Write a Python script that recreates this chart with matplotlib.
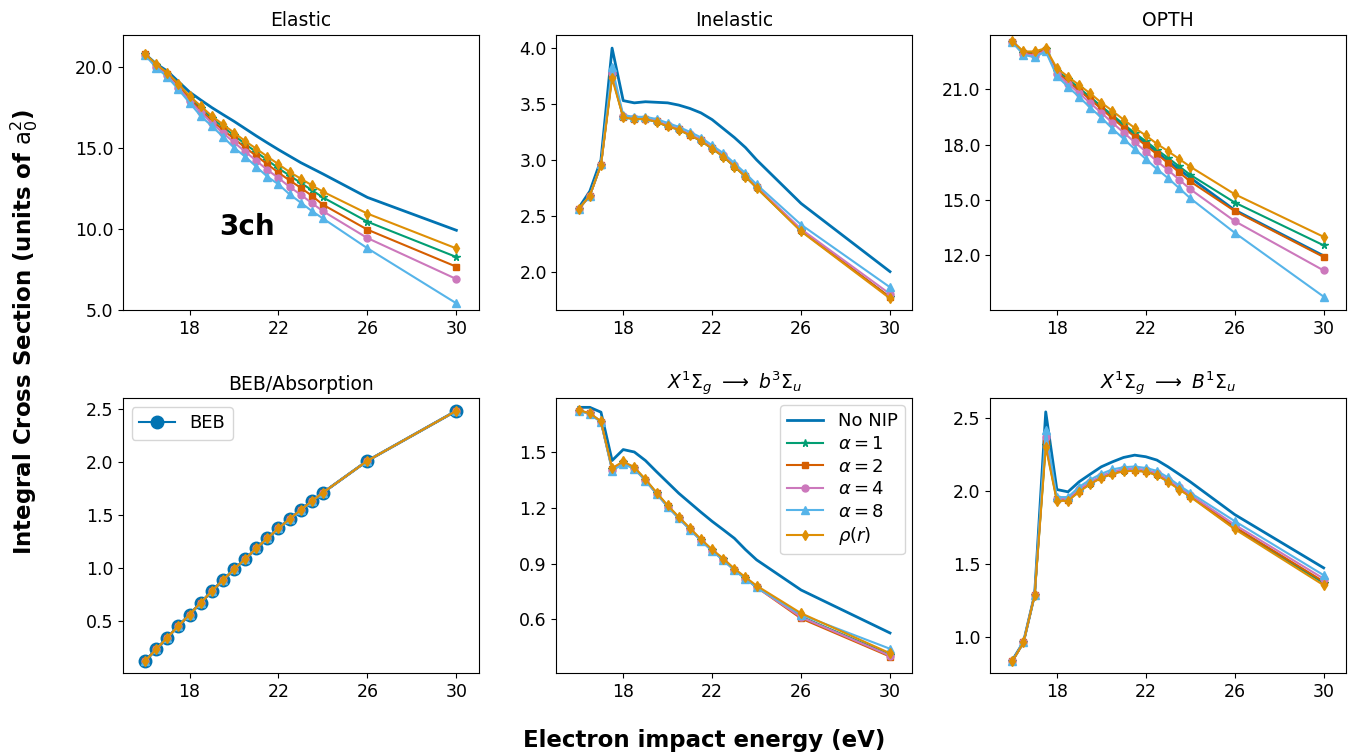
import numpy as np
import matplotlib
matplotlib.use('Agg')
import matplotlib.pyplot as plt
from matplotlib.ticker import MultipleLocator, FormatStrFormatter

plt.rcParams['font.size'] = 12

energy = [16, 16.5, 17, 17.5, 18, 18.5, 19, 19.5, 20, 20.5, 21, 21.5, 22, 22.5, 23, 23.5, 24, 26, 30]

labels = ['No NIP', r'$\alpha = 1$', r'$\alpha = 2$', r'$\alpha = 4$', r'$\alpha = 8$', r'$\rho(r)$']
colors = ['#0173b2', '#029e73', '#d55e00', '#cc78bc', '#56b4e9', '#de8f05']
markers = [None, '*', 's', 'o', '^', 'd']

# elastic
el_nonip = [20.80, 20.20, 19.75, 19.10, 18.46, 17.97, 17.50, 17.07, 16.65, 16.20, 15.75, 15.32, 14.90, 14.50, 14.10, 13.75, 13.40, 11.95, 9.92]
el_a1 = [20.80, 20.12, 19.60, 18.90, 18.12, 17.48, 16.85, 16.30, 15.78, 15.25, 14.75, 14.25, 13.75, 13.30, 12.85, 12.40, 11.95, 10.45, 8.27]
el_a2 = [20.78, 20.08, 19.55, 18.82, 18.02, 17.35, 16.70, 16.12, 15.58, 15.03, 14.52, 14.00, 13.48, 13.00, 12.55, 12.05, 11.50, 9.96, 7.67]
el_a4 = [20.77, 20.02, 19.48, 18.72, 17.92, 17.20, 16.55, 15.93, 15.35, 14.78, 14.22, 13.65, 13.15, 12.60, 12.12, 11.60, 11.10, 9.44, 6.91]
el_a8 = [20.75, 19.96, 19.40, 18.62, 17.80, 16.98, 16.36, 15.70, 15.02, 14.47, 13.85, 13.23, 12.76, 12.14, 11.63, 11.11, 10.65, 8.81, 5.41]
el_rho = [20.82, 20.17, 19.65, 18.97, 18.21, 17.60, 16.98, 16.46, 15.95, 15.43, 14.96, 14.47, 14.00, 13.52, 13.11, 12.70, 12.30, 10.95, 8.80]

# inelastic
in_nonip = [2.57, 2.72, 3.00, 4.00, 3.53, 3.51, 3.52, 3.515, 3.51, 3.49, 3.46, 3.42, 3.36, 3.28, 3.20, 3.11, 3.00, 2.61, 2.00]
in_a1 = [2.56, 2.68, 2.955, 3.75, 3.38, 3.365, 3.365, 3.34, 3.30, 3.27, 3.22, 3.17, 3.10, 3.03, 2.94, 2.85, 2.75, 2.365, 1.77]
in_a2 = [2.56, 2.68, 2.955, 3.76, 3.385, 3.37, 3.365, 3.345, 3.305, 3.275, 3.225, 3.175, 3.105, 3.035, 2.945, 2.855, 2.755, 2.37, 1.77]
in_a4 = [2.56, 2.68, 2.955, 3.78, 3.39, 3.375, 3.37, 3.35, 3.31, 3.28, 3.23, 3.18, 3.11, 3.04, 2.95, 2.86, 2.76, 2.38, 1.80]
in_a8 = [2.56, 2.68, 2.96, 3.83, 3.40, 3.385, 3.385, 3.365, 3.33, 3.295, 3.25, 3.20, 3.13, 3.06, 2.97, 2.88, 2.78, 2.42, 1.86]
in_rho = [2.56, 2.68, 2.955, 3.73, 3.38, 3.365, 3.365, 3.34, 3.30, 3.27, 3.22, 3.17, 3.10, 3.03, 2.94, 2.85, 2.75, 2.36, 1.76]

# opth
op_nonip = [23.58, 22.96, 22.92, 23.13, 21.95, 21.48, 20.98, 20.50, 19.99, 19.50, 19.00, 18.52, 18.05, 17.58, 17.12, 16.65, 16.20, 14.45, 11.97]
op_a1 = [23.58, 22.98, 22.95, 23.15, 22.00, 21.55, 21.05, 20.58, 20.07, 19.60, 19.10, 18.63, 18.18, 17.72, 17.28, 16.82, 16.36, 14.86, 12.54]
op_a2 = [23.57, 22.95, 22.90, 23.12, 21.92, 21.45, 20.93, 20.45, 19.93, 19.43, 18.92, 18.43, 17.95, 17.48, 17.00, 16.50, 16.00, 14.40, 11.91]
op_a4 = [23.56, 22.90, 22.82, 23.08, 21.82, 21.30, 20.78, 20.25, 19.72, 19.18, 18.65, 18.13, 17.62, 17.10, 16.62, 16.10, 15.58, 13.85, 11.18]
op_a8 = [23.55, 22.86, 22.73, 23.04, 21.71, 21.13, 20.58, 20.00, 19.46, 18.86, 18.31, 17.76, 17.22, 16.67, 16.18, 15.64, 15.09, 13.22, 9.76]
op_rho = [23.59, 23.04, 23.04, 23.22, 22.13, 21.68, 21.22, 20.77, 20.27, 19.82, 19.35, 18.90, 18.49, 18.04, 17.64, 17.22, 16.80, 15.31, 13.00]

# BEB / absorption
beb = [0.125, 0.236, 0.346, 0.456, 0.563, 0.673, 0.783, 0.887, 0.988, 1.085, 1.186, 1.280, 1.374, 1.462, 1.547, 1.630, 1.710, 2.010, 2.480]

# X1Sg -> b3Su
b3_nonip = [1.74, 1.74, 1.714, 1.454, 1.513, 1.50, 1.454, 1.394, 1.336, 1.278, 1.227, 1.176, 1.127, 1.082, 1.036, 0.975, 0.92, 0.758, 0.527]
b3_a1 = [1.723, 1.708, 1.663, 1.41, 1.445, 1.415, 1.35, 1.279, 1.209, 1.147, 1.087, 1.027, 0.972, 0.922, 0.868, 0.822, 0.775, 0.615, 0.41]
b3_a2 = [1.722, 1.707, 1.662, 1.407, 1.442, 1.413, 1.348, 1.277, 1.207, 1.145, 1.085, 1.025, 0.97, 0.92, 0.866, 0.82, 0.773, 0.605, 0.40]
b3_a4 = [1.722, 1.707, 1.662, 1.405, 1.44, 1.412, 1.347, 1.276, 1.206, 1.144, 1.084, 1.024, 0.969, 0.919, 0.865, 0.819, 0.772, 0.612, 0.405]
b3_a8 = [1.72, 1.705, 1.66, 1.40, 1.435, 1.41, 1.345, 1.275, 1.205, 1.143, 1.083, 1.023, 0.968, 0.918, 0.864, 0.818, 0.772, 0.625, 0.442]
b3_rho = [1.724, 1.709, 1.664, 1.413, 1.449, 1.418, 1.354, 1.282, 1.213, 1.151, 1.091, 1.031, 0.976, 0.927, 0.873, 0.827, 0.781, 0.633, 0.418]

# X1Sg -> B1Su
B1_nonip = [0.84, 0.965, 1.29, 2.545, 2.012, 1.996, 2.065, 2.117, 2.168, 2.202, 2.232, 2.248, 2.237, 2.214, 2.168, 2.117, 2.065, 1.84, 1.474]
B1_a1 = [0.833, 0.962, 1.287, 2.32, 1.94, 1.938, 2.0, 2.053, 2.095, 2.122, 2.142, 2.144, 2.137, 2.114, 2.069, 2.016, 1.966, 1.745, 1.37]
B1_a2 = [0.834, 0.962, 1.287, 2.34, 1.945, 1.943, 2.005, 2.058, 2.10, 2.127, 2.146, 2.148, 2.141, 2.118, 2.073, 2.02, 1.97, 1.755, 1.38]
B1_a4 = [0.834, 0.963, 1.288, 2.37, 1.95, 1.95, 2.015, 2.065, 2.105, 2.135, 2.152, 2.155, 2.148, 2.125, 2.08, 2.027, 1.977, 1.77, 1.40]
B1_a8 = [0.835, 0.963, 1.288, 2.42, 1.96, 1.96, 2.03, 2.08, 2.12, 2.15, 2.165, 2.17, 2.16, 2.14, 2.095, 2.04, 1.99, 1.795, 1.424]
B1_rho = [0.833, 0.962, 1.287, 2.305, 1.934, 1.934, 1.996, 2.049, 2.092, 2.117, 2.138, 2.14, 2.133, 2.11, 2.065, 2.012, 1.962, 1.74, 1.355]

panels = [
    ('Elastic', [el_nonip, el_a1, el_a2, el_a4, el_a8, el_rho], (5.0, 22.0), 5),
    ('Inelastic', [in_nonip, in_a1, in_a2, in_a4, in_a8, in_rho], (1.657, 4.12), 0.5),
    ('OPTH', [op_nonip, op_a1, op_a2, op_a4, op_a8, op_rho], (9.04, 23.95), 3),
    ('BEB/Absorption', [beb] * 6, (0.01, 2.60), 0.5),
    (r'$X^1\Sigma_g\ \longrightarrow\ b^3\Sigma_u$', [b3_nonip, b3_a1, b3_a2, b3_a4, b3_a8, b3_rho], (0.31, 1.79), 0.3),
    (r'$X^1\Sigma_g\ \longrightarrow\ B^1\Sigma_u$', [B1_nonip, B1_a1, B1_a2, B1_a4, B1_a8, B1_rho], (0.75, 2.64), 0.5),
]

fig, axes = plt.subplots(2, 3, figsize=(13.65, 7.54), dpi=100)
fig.subplots_adjust(left=0.09, right=0.986, top=0.954, bottom=0.107, wspace=0.219, hspace=0.32)

for ax, (title, series, ylim, step) in zip(axes.flat, panels):
    if title == 'BEB/Absorption':
        beb_line, = ax.plot(energy, beb, 'o-', color=colors[0], ms=9, lw=1.5, label='BEB')
    for i, y in enumerate(series):
        if i == 0:
            ax.plot(energy, y, color=colors[i], lw=2, label=labels[i])
        else:
            ms = 5.5 if markers[i] in ('^', 'd', '*') else 5
            ax.plot(energy, y, color=colors[i], marker=markers[i], ms=ms, lw=1.5, label=labels[i])
    ax.set_title(title, fontsize=13.5)
    ax.set_xlim(15, 31)
    ax.set_xticks([18, 22, 26, 30])
    ax.set_ylim(*ylim)
    ax.yaxis.set_major_locator(MultipleLocator(step))
    ax.yaxis.set_major_formatter(FormatStrFormatter('%.1f'))
    ax.tick_params(labelsize=12.5)

axes[0, 0].text(0.35, 0.30, '3ch', transform=axes[0, 0].transAxes, fontsize=20,
                fontweight='bold', ha='center', va='center')
axes[1, 0].legend(handles=[beb_line], loc='upper left', fontsize=13, labelspacing=0.3)
axes[1, 1].legend(loc='upper right', fontsize=13, labelspacing=0.25, borderaxespad=0.4)

fig.supxlabel('Electron impact energy (eV)', fontsize=16.5, fontweight='bold', x=0.516, y=0.003)
fig.supylabel(r'Integral Cross Section (units of $\mathrm{a_0^2}$)', fontsize=16.5,
              fontweight='bold', x=0.006, y=0.56)

plt.savefig('out.png', dpi=100)
